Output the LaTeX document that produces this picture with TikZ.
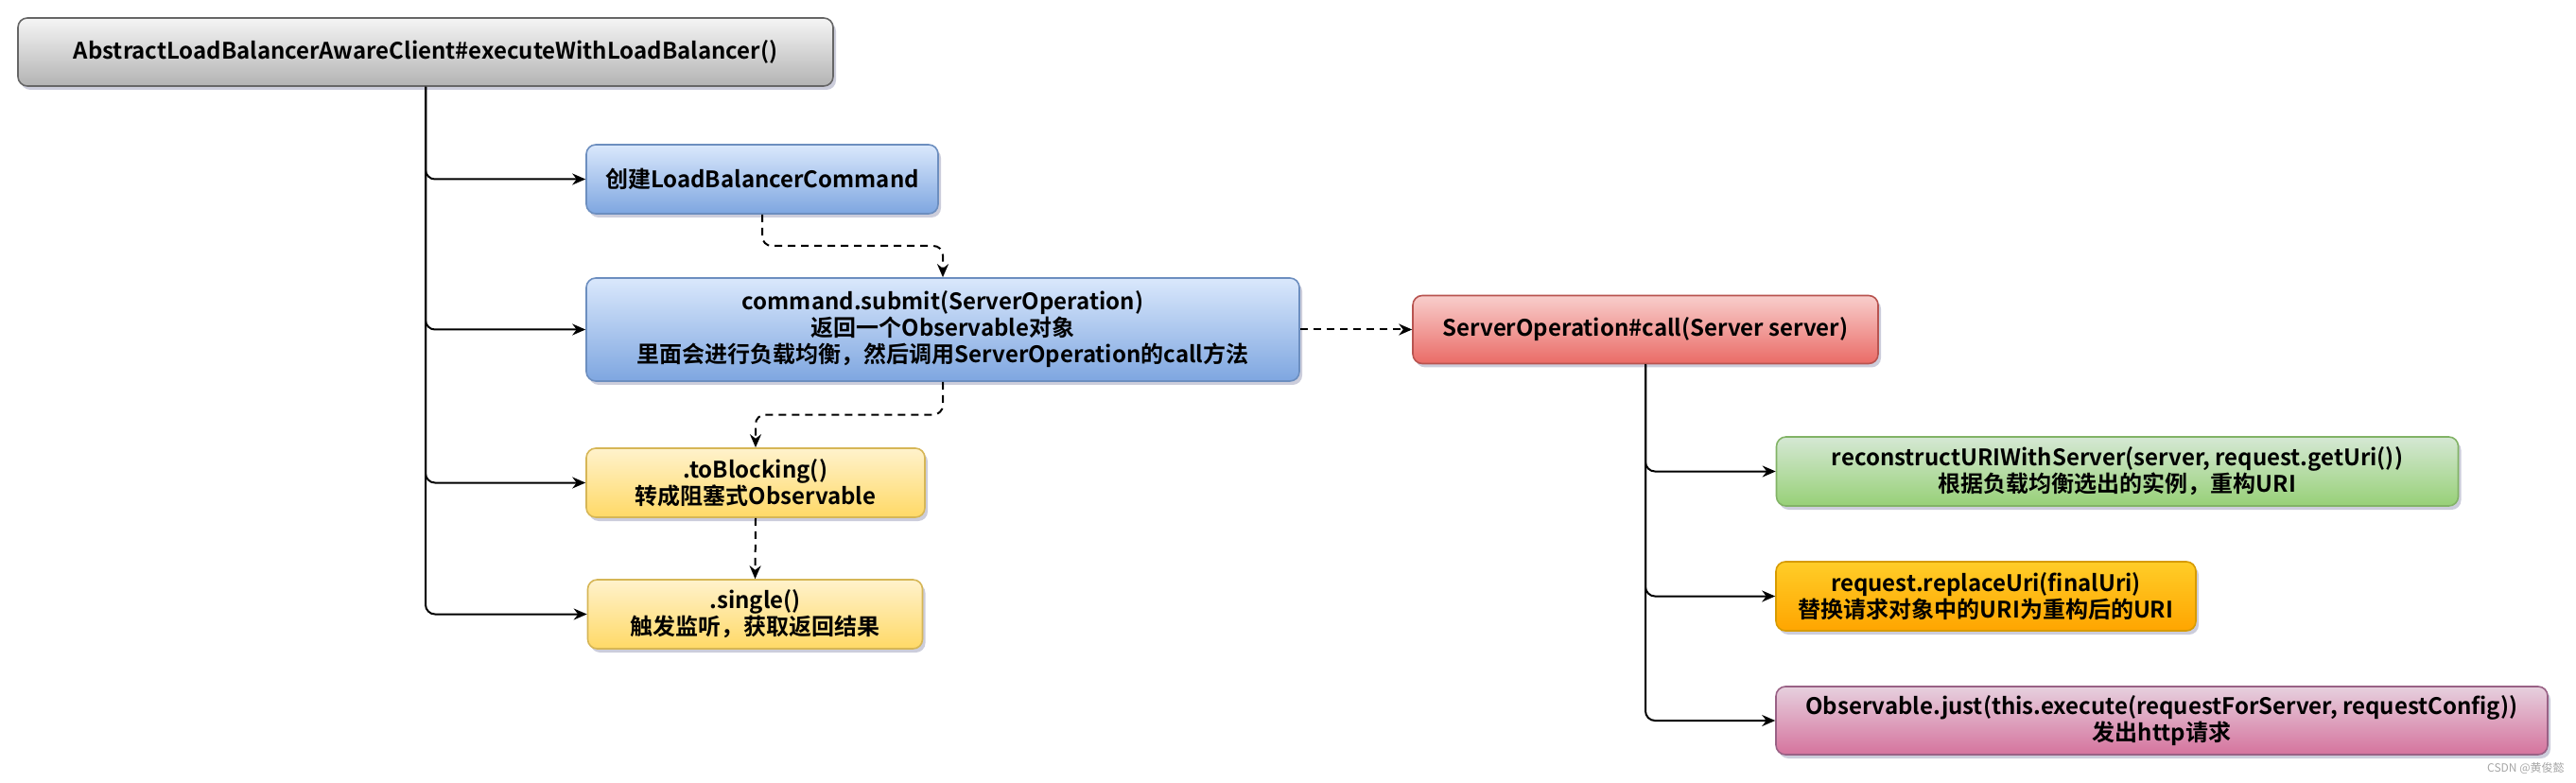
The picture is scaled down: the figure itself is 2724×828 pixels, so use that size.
\documentclass[tikz,border=0pt]{standalone}
\usepackage{fontspec}
\setmainfont{Noto Sans CJK SC}[BoldFont={Noto Sans CJK SC Bold}]
\usetikzlibrary{positioning, calc, shadows, arrows.meta}

\definecolor{grayTop}{HTML}{F5F5F5}
\definecolor{grayBot}{HTML}{B3B3B3}
\definecolor{grayLine}{HTML}{666666}
\definecolor{blueTop}{HTML}{DAE8FC}
\definecolor{blueBot}{HTML}{7EA6E0}
\definecolor{blueLine}{HTML}{6C8EBF}
\definecolor{yellowTop}{HTML}{FFF2CC}
\definecolor{yellowBot}{HTML}{FFD966}
\definecolor{yellowLine}{HTML}{D6B656}
\definecolor{redTop}{HTML}{F8CECC}
\definecolor{redBot}{HTML}{EA6B66}
\definecolor{redLine}{HTML}{B85450}
\definecolor{greenTop}{HTML}{D5E8D4}
\definecolor{greenBot}{HTML}{97D077}
\definecolor{greenLine}{HTML}{82B366}
\definecolor{orangeTop}{HTML}{FFCD28}
\definecolor{orangeBot}{HTML}{FFA500}
\definecolor{orangeLine}{HTML}{D79B00}
\definecolor{pinkTop}{HTML}{E6D0DE}
\definecolor{pinkBot}{HTML}{D5739D}
\definecolor{pinkLine}{HTML}{996185}
\definecolor{shadowC}{HTML}{8E90B0}

\begin{document}
\begin{tikzpicture}[x=0.5pt, y=-0.5pt, >={Stealth[length=7pt,width=6pt]},
    box/.style={rectangle, rounded corners=5pt, line width=0.8pt, align=center,
      inner sep=0pt, font=\bfseries\fontsize{12}{14}\selectfont,
      drop shadow={shadow xshift=1.5pt, shadow yshift=-2pt, fill=shadowC, opacity=0.45}},
    graybox/.style={box, draw=grayLine, top color=grayTop, bottom color=grayBot},
    bluebox/.style={box, draw=blueLine, top color=blueTop, bottom color=blueBot},
    yellowbox/.style={box, draw=yellowLine, top color=yellowTop, bottom color=yellowBot},
    redbox/.style={box, draw=redLine, top color=redTop, bottom color=redBot},
    greenbox/.style={box, draw=greenLine, top color=greenTop, bottom color=greenBot},
    orangebox/.style={box, draw=orangeLine, top color=orangeTop, bottom color=orangeBot},
    pinkbox/.style={box, draw=pinkLine, top color=pinkTop, bottom color=pinkBot},
    call/.style={->, line width=1pt, rounded corners=5pt},
    async/.style={call, dash pattern=on 4pt off 3pt}]

  \useasboundingbox (0,0) rectangle (2724,828);

  % left column
  \node[graybox, minimum width=431pt, minimum height=36pt] (client) at (450,55)
    {AbstractLoadBalancerAwareClient\#executeWithLoadBalancer()};
  \node[bluebox, minimum width=186pt, minimum height=36.5pt] (cmd) at (806,189.5)
    {创建LoadBalancerCommand};
  \node[bluebox, minimum width=377pt, minimum height=54.5pt] (submit) at (997,348.5)
    {command.submit(ServerOperation)\\返回一个Observable对象\\里面会进行负载均衡，然后调用ServerOperation的call方法};
  \node[yellowbox, minimum width=179pt, minimum height=36.5pt] (block) at (799,510.5)
    {.toBlocking()\\转成阻塞式Observable};
  \node[yellowbox, minimum width=177pt, minimum height=36.5pt] (single) at (798.5,649.5)
    {.single()\\触发监听，获取返回结果};

  % right column
  \node[redbox, minimum width=246pt, minimum height=36pt] (srvcall) at (1740,348.5)
    {ServerOperation\#call(Server server)};
  \node[greenbox, minimum width=360.5pt, minimum height=36.5pt] (rebuild) at (2239,498.5)
    {reconstructURIWithServer(server, request.getUri())\\根据负载均衡选出的实例，重构URI};
  \node[orangebox, minimum width=222pt, minimum height=36.5pt] (replace) at (2100,630.5)
    {request.replaceUri(finalUri)\\替换请求对象中的URI为重构后的URI};
  \node[pinkbox, minimum width=408pt, minimum height=36pt] (just) at (2286,762)
    {Observable.just(this.execute(requestForServer, requestConfig))\\发出http请求};

  \node[anchor=east, inner sep=0pt, text=gray!70, font=\fontsize{6}{7}\selectfont] (mark) at (2712,812)
    {CSDN @黄俊懿};

  \draw[call] (client.south) |- (cmd.west);
  \draw[call] (client.south) |- (submit.west);
  \draw[call] (client.south) |- (block.west);
  \draw[call] (client.south) |- (single.west);

  \draw[async] (cmd.south) |- ($(cmd.south)!0.5!(submit.north)$) -| (submit.north);
  \draw[async] (submit.south) |- ($(submit.south)!0.5!(block.north)$) -| (block.north);
  \draw[async] (block.south) -- (single.north);
  \draw[async] (submit.east) -- (srvcall.west);

  \draw[call] (srvcall.south) |- (rebuild.west);
  \draw[call] (srvcall.south) |- (replace.west);
  \draw[call] (srvcall.south) |- (just.west);
\end{tikzpicture}
\end{document}
